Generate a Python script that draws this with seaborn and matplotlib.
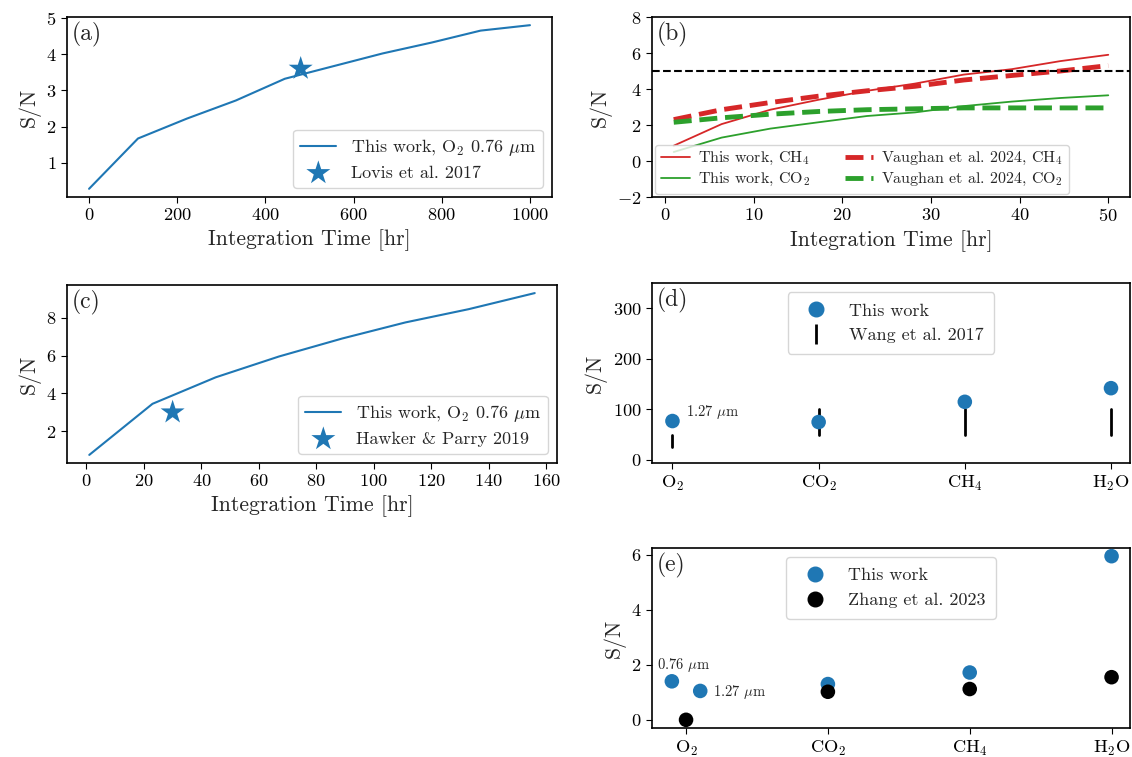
import matplotlib
matplotlib.use("Agg")
import matplotlib.pyplot as plt
import seaborn as sns
import numpy as np
import pandas as pd
from matplotlib.lines import Line2D

# ---------------- data ----------------
# (a)
a_time = [0, 111, 222, 333, 444, 555, 666, 777, 888, 1000]
a_snr = [0.28, 1.67, 2.22, 2.72, 3.32, 3.67, 4.02, 4.32, 4.65, 4.80]
a_ref_time = [480]
a_ref_snr = [3.6]

# (b)
b_time = [1, 6.4, 11.9, 17.3, 22.8, 28.2, 33.7, 39.1, 44.6, 50]
b_ch4 = [0.85, 2.05, 2.85, 3.40, 3.90, 4.30, 4.80, 5.10, 5.55, 5.90]
b_co2 = [0.50, 1.30, 1.80, 2.15, 2.50, 2.70, 3.05, 3.30, 3.50, 3.65]
b_v_time = [1, 6.4, 11.9, 17.3, 22.8, 28.2, 33.7, 39.1, 44.6, 50]
b_v_ch4 = [2.30, 2.85, 3.25, 3.60, 3.90, 4.15, 4.50, 4.75, 5.00, 5.30]
b_v_co2 = [2.15, 2.40, 2.60, 2.75, 2.85, 2.90, 2.95, 2.95, 2.95, 2.95]
b_threshold = 5

# (c)
c_time = [1, 23, 45, 67, 89, 111, 133, 156]
c_snr = [0.75, 3.45, 4.85, 5.95, 6.90, 7.75, 8.45, 9.30]
c_ref_time = [30]
c_ref_snr = [3.0]

# (d)
gases = [r"O$_2$", r"CO$_2$", r"CH$_4$", r"H$_2$O"]
d_this = [77, 75, 115, 142]
d_wang_low = [25, 50, 50, 50]
d_wang_high = [50, 100, 100, 100]

# (e)
e_this_x = [-0.1, 0.1, 1, 2, 3]
e_this = [1.40, 1.05, 1.30, 1.72, 5.95]
e_zhang = [0.0, 1.02, 1.12, 1.55]

# ---------------- style ----------------
sns.set_style("ticks")
plt.rcParams.update({
    "font.family": ["cmr10", "DejaVu Serif"],
    "mathtext.fontset": "cm",
    "axes.formatter.use_mathtext": True,
    "axes.unicode_minus": True,
    "xtick.labelsize": 13.2,
    "ytick.labelsize": 13.2,
    "axes.labelsize": 15.7,
    "axes.edgecolor": "black",
    "axes.linewidth": 1.2,
    "xtick.color": "black",
    "ytick.color": "black",
    "xtick.direction": "out",
    "ytick.direction": "out",
    "xtick.major.size": 4,
    "ytick.major.size": 4,
    "legend.fontsize": 13,
})

blue = "#1f77b4"
red = "#d62728"
green = "#2ca02c"

fig = plt.figure(figsize=(11.32, 7.57), dpi=100)
W, H = 1132, 757


def box(l, t, r, b):
    return [l / W, 1 - b / H, (r - l) / W, (b - t) / H]


ax_a = fig.add_axes(box(67, 17, 552, 197))
ax_b = fig.add_axes(box(652, 17, 1130, 197))
ax_c = fig.add_axes(box(67, 285, 557, 463))
ax_d = fig.add_axes(box(652, 283, 1130, 463))
ax_e = fig.add_axes(box(652, 548, 1130, 728))


def panel(ax, s):
    ax.text(0.01, 0.97, s, transform=ax.transAxes, fontsize=17,
            va="top", ha="left")


# (a)
sns.lineplot(x=a_time, y=a_snr, ax=ax_a, color=blue, lw=1.5,
             label=r"This work, O$_2$ 0.76 $\mu$m")
sns.scatterplot(x=a_ref_time, y=a_ref_snr, ax=ax_a, color=blue, marker="*",
                s=330, edgecolor="none", label="Lovis et al. 2017")
ax_a.set_xticks(range(0, 1001, 200))
ax_a.set_yticks([1, 2, 3, 4, 5])
ax_a.set_xlabel("Integration Time [hr]")
ax_a.set_ylabel("S/N")
ax_a.legend(loc="lower right", labelspacing=0.4)
panel(ax_a, "(a)")

# (b)
sns.lineplot(x=b_time, y=b_ch4, ax=ax_b, color=red, lw=1.3,
             label=r"This work, CH$_4$")
sns.lineplot(x=b_time, y=b_co2, ax=ax_b, color=green, lw=1.3,
             label=r"This work, CO$_2$")
sns.lineplot(x=b_v_time, y=b_v_ch4, ax=ax_b, color=red, lw=3.5,
             linestyle="--", label=r"Vaughan et al. 2024, CH$_4$")
sns.lineplot(x=b_v_time, y=b_v_co2, ax=ax_b, color=green, lw=3.5,
             linestyle="--", label=r"Vaughan et al. 2024, CO$_2$")
ax_b.axhline(b_threshold, color="black", ls="--", lw=1.5)
ax_b.set_ylim(-2, 8)
ax_b.set_yticks(range(-2, 9, 2))
ax_b.set_xticks(range(0, 51, 10))
ax_b.set_xlabel("Integration Time [hr]")
ax_b.set_ylabel("S/N")
ax_b.legend(loc="lower left", ncol=2, fontsize=11.5, columnspacing=2.2,
            borderaxespad=0.2, handlelength=1.8, handletextpad=0.5,
            labelspacing=0.25, borderpad=0.35)
panel(ax_b, "(b)")

# (c)
sns.lineplot(x=c_time, y=c_snr, ax=ax_c, color=blue, lw=1.5,
             label=r"This work, O$_2$ 0.76 $\mu$m")
sns.scatterplot(x=c_ref_time, y=c_ref_snr, ax=ax_c, color=blue, marker="*",
                s=330, edgecolor="none", label="Hawker & Parry 2019")
ax_c.set_xticks(range(0, 161, 20))
ax_c.set_yticks([2, 4, 6, 8])
ax_c.set_xlabel("Integration Time [hr]")
ax_c.set_ylabel("S/N")
ax_c.legend(loc="lower right", labelspacing=0.4)
panel(ax_c, "(c)")

# (d)
xpos = np.arange(len(gases))
seg = pd.DataFrame({
    "x": np.repeat(xpos, 2),
    "y": np.ravel(np.column_stack([d_wang_low, d_wang_high])),
    "g": np.repeat(xpos, 2),
})
sns.lineplot(data=seg, x="x", y="y", units="g", estimator=None, ax=ax_d,
             color="black", lw=2, sort=False, legend=False)
sns.scatterplot(x=xpos, y=d_this, ax=ax_d, color=blue, s=110,
                edgecolor="none", zorder=3, legend=False)
ax_d.text(0.09, 95, r"1.27 $\mu$m", fontsize=10.5, va="center", ha="left")
ax_d.set_xticks(xpos)
ax_d.set_xticklabels(gases)
ax_d.set_xlim(-0.14, 3.13)
ax_d.set_ylim(-6, 350)
ax_d.set_yticks([0, 100, 200, 300])
ax_d.set_xlabel("")
ax_d.set_ylabel("S/N")
hd = [Line2D([], [], marker="o", ls="none", color=blue, markersize=10.5),
      Line2D([], [], marker="|", ls="none", color="black", markersize=14,
             markeredgewidth=2)]
ax_d.legend(hd, ["This work", "Wang et al. 2017"], loc="upper center",
            borderpad=0.6)
panel(ax_d, "(d)")

# (e)
sns.scatterplot(x=e_this_x, y=e_this, ax=ax_e, color=blue, s=110,
                edgecolor="none", zorder=3, legend=False)
sns.scatterplot(x=xpos, y=e_zhang, ax=ax_e, color="black", s=110,
                edgecolor="none", zorder=3, legend=False)
ax_e.text(-0.205, 1.98, r"0.76 $\mu$m", fontsize=10.5, va="center", ha="left")
ax_e.text(0.19, 1.02, r"1.27 $\mu$m", fontsize=10.5, va="center", ha="left")
ax_e.set_xticks(xpos)
ax_e.set_xticklabels(gases)
ax_e.set_xlim(-0.24, 3.13)
ax_e.set_yticks([0, 2, 4, 6])
ax_e.set_xlabel("")
ax_e.set_ylabel("S/N")
he = [Line2D([], [], marker="o", ls="none", color=blue, markersize=10.5),
      Line2D([], [], marker="o", ls="none", color="black", markersize=10.5)]
ax_e.legend(he, ["This work", "Zhang et al. 2023"], loc="upper center",
            borderpad=0.6)
panel(ax_e, "(e)")

fig.savefig("out.png", dpi=100)
